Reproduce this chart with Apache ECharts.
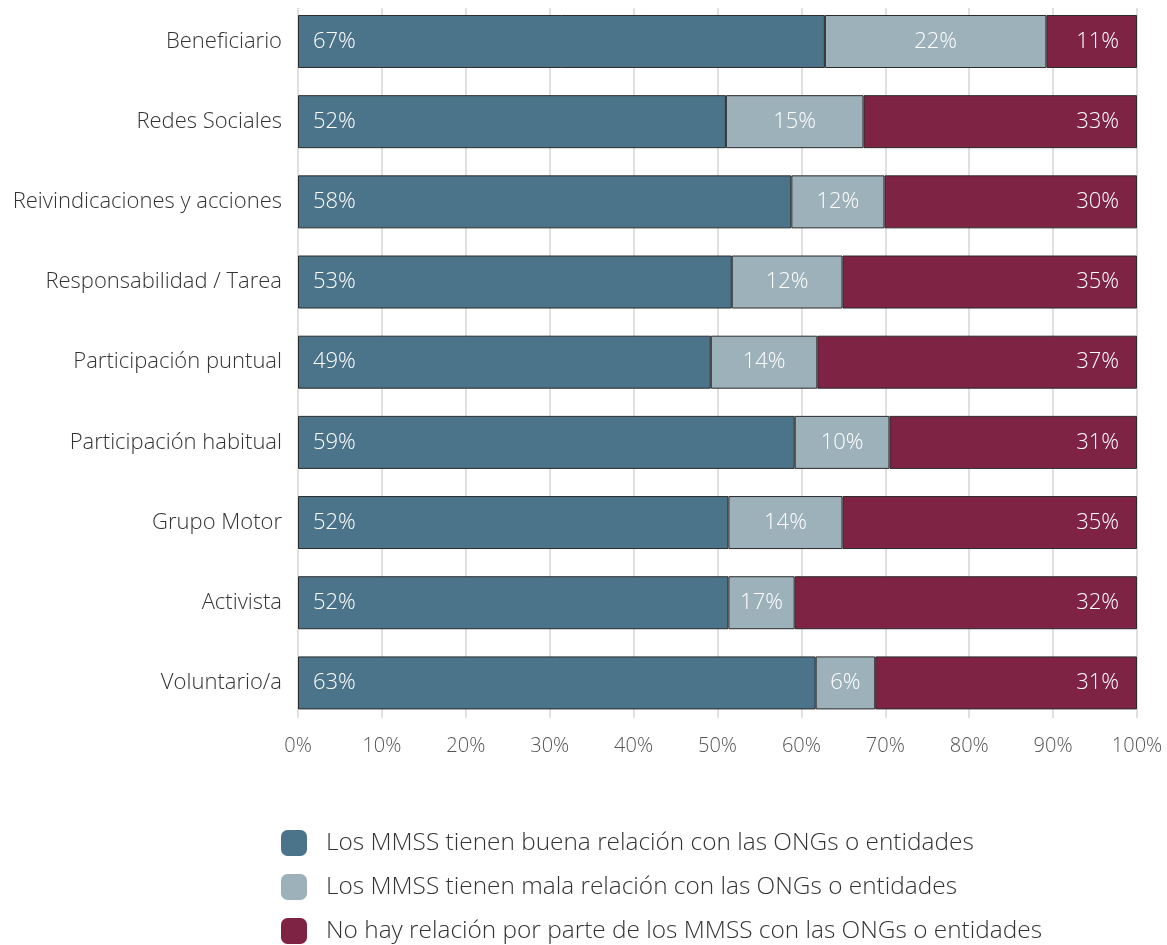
<!DOCTYPE html>
<html><head><meta charset="utf-8">
<script src="https://cdn.jsdelivr.net/npm/echarts@6/dist/echarts.min.js"></script>
<style>html,body{margin:0;padding:0;background:#fff}#c{width:1167px;height:945px}</style>
</head><body><div id="c"></div>
<script>
const categories = ["Beneficiario","Redes Sociales","Reivindicaciones y acciones","Responsabilidad / Tarea","Participación puntual","Participación habitual","Grupo Motor","Activista","Voluntario/a"];
const seriesNames = ["Los MMSS tienen buena relación con las ONGs o entidades","Los MMSS tienen mala relación con las ONGs o entidades","No hay relación por parte de los MMSS con las ONGs o entidades"];
// segment widths as drawn (%)
const buena = [62.8, 51.0, 58.8, 51.7, 49.2, 59.2, 51.3, 51.3, 61.7];
const mala  = [26.4, 16.4, 11.1, 13.2, 12.7, 11.3, 13.6, 7.9, 7.1];
const sin   = [10.8, 32.6, 30.1, 35.1, 38.1, 29.5, 35.1, 40.8, 31.2];
// printed labels
const buenaLbl = ["67%","52%","58%","53%","49%","59%","52%","52%","63%"];
const malaLbl  = ["22%","15%","12%","12%","14%","10%","14%","17%","6%"];
const sinLbl   = ["11%","33%","30%","35%","37%","31%","35%","32%","31%"];
const xTicks = ["0%","10%","20%","30%","40%","50%","60%","70%","80%","90%","100%"];
const colors = ["#4b7389","#9cb1ba","#7f2344"];
const FONT = "Open Sans";

const chart = echarts.init(document.getElementById('c'));
function mk(i, vals, lbls, pos, dist){
  return {
    name: seriesNames[i], type:'bar', stack:'t', xAxisIndex:0, yAxisIndex:0,
    barWidth:53, data: vals,
    itemStyle:{color:colors[i], borderColor:'#2b2b2b', borderWidth:1},
    label:{show:true, position:pos, distance:dist, color:'#fff', fontSize:22, fontFamily:FONT, fontWeight:300,
      formatter:(p)=>lbls[p.dataIndex]},
    emphasis:{disabled:true}, animation:false
  };
}
chart.setOption({
  animation:false,
  color: colors,
  grid:[{left:298, right:30, top:1.4, bottom:222},
        {left:298, right:30, top:8, bottom:227}],
  xAxis:[{type:'value', min:0, max:100, interval:10, gridIndex:0,
    axisLine:{show:false}, axisTick:{show:false}, splitLine:{show:false},
    axisLabel:{formatter:(v)=>xTicks[Math.round(v/10)], color:'#555', fontSize:20, fontFamily:FONT, fontWeight:300, margin:13}},
    {type:'value', min:0, max:100, interval:10, gridIndex:1,
    axisLine:{show:false}, axisTick:{show:false}, axisLabel:{show:false},
    splitLine:{show:true, lineStyle:{color:'#d6d6d6', width:1.5}}}],
  yAxis:[{type:'category', data:categories, inverse:true, gridIndex:0,
    axisLine:{show:false}, axisTick:{show:false},
    axisLabel:{color:'#333', fontSize:22, fontFamily:FONT, fontWeight:300, margin:16}},
    {type:'category', data:categories, gridIndex:1, show:false}],
  legend:{orient:'vertical', left:281, top:830, height:130, padding:0, itemWidth:26, itemHeight:26, itemGap:18,
    icon:'roundRect', itemStyle:{borderWidth:0},
    textStyle:{color:'#333', fontSize:24.4, fontFamily:FONT, fontWeight:300, padding:[0,0,0,14]},
    data: seriesNames, selectedMode:false},
  series:[ mk(0,buena,buenaLbl,'insideLeft',15), mk(1,mala,malaLbl,'inside',0), mk(2,sin,sinLbl,'insideRight',18),
    {type:'bar', xAxisIndex:1, yAxisIndex:1, data:[], silent:true}]
});
</script></body></html>
